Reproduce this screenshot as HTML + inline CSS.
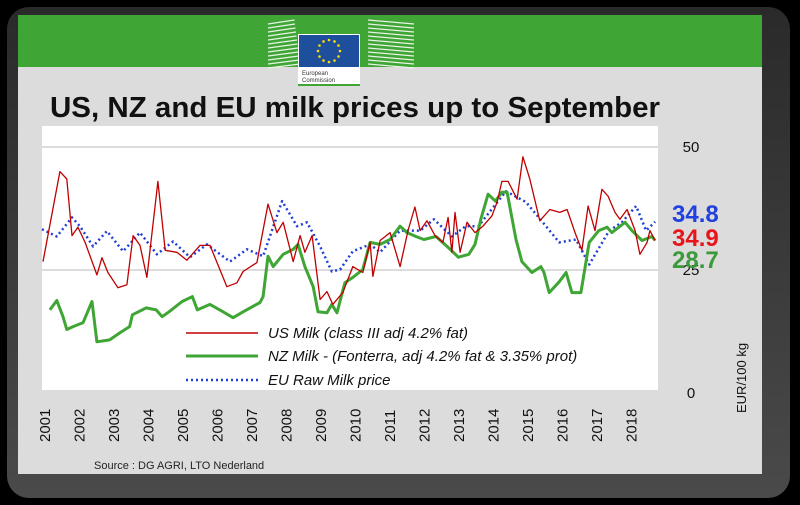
<!DOCTYPE html>
<html><head><meta charset="utf-8"><style>
html,body{margin:0;padding:0;background:#000;}
body{width:800px;height:505px;overflow:hidden;position:relative;font-family:"Liberation Sans",sans-serif;}
</style></head><body>
<svg width="800" height="505" viewBox="0 0 800 505" style="position:absolute;left:0;top:0">
<defs><linearGradient id="fr" x1="0" x2="0" y1="0" y2="1"><stop offset="0" stop-color="#2a2a2a"/><stop offset="1" stop-color="#4a4a4a"/></linearGradient></defs>
<rect x="7" y="7" width="783" height="491" rx="22" fill="url(#fr)"/>
<rect x="18" y="15" width="744" height="459" fill="#dcdcdc"/>
<rect x="18" y="15" width="744" height="52" fill="#3fa535"/>
<g>
<g stroke="#e8f4e4" stroke-width="1.3" id="stripesL"></g>
<g stroke="#e8f4e4" stroke-width="1.3" id="stripesR"></g>
<rect x="298" y="34" width="62" height="51" fill="#fff"/>
<rect x="299" y="35" width="60" height="32" fill="#1d4f9c"/>
<g id="stars" fill="#ffde00"></g>
<text x="302" y="75" font-size="6" fill="#333">European</text>
<text x="302" y="82" font-size="6" fill="#333">Commission</text>
<rect x="298" y="84" width="62" height="2" fill="#3fa535"/>
</g>
<text x="50" y="117" font-size="29" font-weight="bold" fill="#111" textLength="610" lengthAdjust="spacingAndGlyphs">US, NZ and EU milk prices up to September</text>
<rect x="42" y="126" width="616" height="264" fill="#fff"/>
<g id="grid"></g>
<g id="series"></g>
<g id="yticks" font-size="15" fill="#111"></g>
<g id="xticks" font-size="15" fill="#111"></g>
<g font-size="15" font-style="italic" fill="#111">
<line x1="186" x2="258" y1="333" y2="333" stroke="#c00000" stroke-width="1.5"/>
<text x="268" y="338">US Milk (class III adj 4.2% fat)</text>
<line x1="186" x2="258" y1="356" y2="356" stroke="#3fa535" stroke-width="3"/>
<text x="268" y="361">NZ Milk - (Fonterra, adj 4.2% fat &amp; 3.35% prot)</text>
<line x1="186" x2="258" y1="380" y2="380" stroke="#1f3fd6" stroke-width="2.5" stroke-dasharray="2,3"/>
<text x="268" y="385">EU Raw Milk price</text>
</g>
<text x="672" y="222" font-size="24" font-weight="bold" fill="#2040e0">34.8</text>
<text x="672" y="246" font-size="24" font-weight="bold" fill="#e8141c">34.9</text>
<text x="672" y="268" font-size="24" font-weight="bold" fill="#3a9a3a">28.7</text>
<text transform="translate(746,413) rotate(-90)" font-size="13" fill="#111">EUR/100 kg</text>
<text x="94" y="469" font-size="11" fill="#222">Source : DG AGRI, LTO Nederland</text>
</svg>
<script>
const usT=[2001.03,2001.52,2001.72,2001.87,2002.04,2002.25,2002.59,2002.74,2002.91,2003.2,2003.46,2003.64,2003.84,2004.04,2004.36,2004.57,2004.91,2005.2,2005.58,2005.87,2006.36,2006.65,2006.83,2007.23,2007.55,2007.81,2007.99,2008.28,2008.48,2008.62,2008.83,2009.06,2009.26,2009.43,2009.72,2010.01,2010.3,2010.51,2010.59,2010.8,2011.09,2011.38,2011.61,2011.81,2011.96,2012.16,2012.39,2012.62,2012.77,2012.88,2012.97,2013.12,2013.32,2013.55,2013.78,2014.04,2014.19,2014.33,2014.51,2014.77,2014.94,2015.14,2015.43,2015.72,2016.01,2016.22,2016.45,2016.65,2016.83,2017.03,2017.23,2017.41,2017.61,2017.75,2017.96,2018.19,2018.33,2018.54,2018.62,2018.77];
const usV=[26.7,45,43.5,32,33.7,30.6,24,27.5,24.5,21.4,22,32,30,23.5,43,29,28.6,27,30,30,21.6,22.4,24.7,26.5,38.4,32.6,34.7,26.7,32,28.6,32,19,20.6,18,20.4,25.7,24.5,30.6,23.7,31,32.6,25.7,33,37.8,33,35,32,30.6,35.7,28.6,36.7,28.6,34.7,32.6,33.9,36,38.8,43,43,39.4,48,43.5,35,37.3,36.7,37.3,32.6,29,38,33,41.4,40,36.7,35.3,37.3,33,28.2,30.6,33,31,34.9];
const nzT=[2001.23,2001.43,2001.61,2001.72,2001.9,2002.19,2002.45,2002.59,2002.96,2003.25,2003.54,2003.62,2004.02,2004.31,2004.48,2004.68,2005.06,2005.36,2005.5,2005.87,2006.25,2006.54,2006.83,2007.32,2007.41,2007.55,2007.7,2007.99,2008.28,2008.42,2008.62,2008.86,2009.0,2009.26,2009.4,2009.55,2009.78,2010.01,2010.3,2010.51,2010.8,2011.09,2011.38,2011.58,2011.84,2012.07,2012.42,2012.74,2013.07,2013.37,2013.55,2013.72,2013.93,2014.14,2014.33,2014.48,2014.74,2014.91,2015.2,2015.46,2015.55,2015.7,2015.99,2016.19,2016.36,2016.62,2016.86,2017.14,2017.38,2017.52,2017.9,2018.1,2018.39,2018.68,2018.77];
const nzV=[16.9,18.8,15.5,12.9,13.5,14.3,18.6,10.4,10.8,12.2,13.5,15.9,17.3,16.9,15.5,16.5,18.6,19.6,16.9,18,16.5,15.3,16.5,18.4,19.6,27.8,25.7,28.2,29.2,30.2,25.7,21.6,16.5,16.3,18,16.3,22.4,23.5,25.1,30.6,30.2,31.2,33.9,32.6,31.8,31.2,31.8,29.8,27.6,28.2,30.2,35.3,40.4,39,40.8,40.8,31.2,26.7,24.5,25.7,24.5,20.4,22.6,24.5,20.4,20.4,30.6,33,33.7,32.6,34.7,33,31,31.8,31,28.7];
const euT=[2001.0,2001.43,2001.87,2002.1,2002.48,2002.88,2003.35,2003.84,2004.33,2004.8,2005.29,2005.78,2006.45,2006.94,2007.41,2007.96,2008.39,2008.68,2009.06,2009.4,2009.64,2010.01,2010.51,2010.8,2011.38,2011.96,2012.36,2012.88,2013.28,2013.65,2014.03,2014.45,2015.03,2015.61,2015.99,2016.48,2016.86,2017.44,2017.81,2018.22,2018.51,2018.77];
const euV=[33.3,31.8,35.7,33.9,29.8,32.9,28.8,32.6,28.2,30.8,27.6,30.2,26.7,29.2,27.8,39,33.9,34.7,29.8,24.7,25.1,28.8,30.2,28.6,33,33,35.3,31.8,33.9,33.9,37.3,41,38.8,33.9,30.6,31.2,26.1,33,34.7,38,33,34.8];
const yTicks=[0,25,50];
const xYears=[2001,2002,2003,2004,2005,2006,2007,2008,2009,2010,2011,2012,2013,2014,2015,2016,2017,2018];
const NS='http://www.w3.org/2000/svg';
const x=t=>42+(t-2001)*34.5;
const y=v=>393-4.92*v;
function mk(tag,attrs,parent){const e=document.createElementNS(NS,tag);for(const k in attrs)e.setAttribute(k,attrs[k]);parent.appendChild(e);return e;}
const grid=document.getElementById('grid');
yTicks.filter(v=>v>0).forEach(v=>{const l=mk('line',{x1:42,x2:658,y1:y(v),y2:y(v),stroke:'#d0d0d0','stroke-width':1.5},grid);

});
const yt=document.getElementById('yticks');
yTicks.forEach(v=>{const t=mk('text',{x:691,y:y(v)+5,'text-anchor':'middle'},yt);t.textContent=v;

});
const xt=document.getElementById('xticks');
xYears.forEach(yr=>{const cx=x(yr)+3;const t=mk('text',{transform:`translate(${cx+5},442) rotate(-90)`},xt);t.textContent=yr;

});
const sg=document.getElementById('series');
function line(T,V,attrs,name){const d=T.map((t,i)=>(i?'L':'M')+x(t).toFixed(1)+','+y(V[i]).toFixed(1)).join('');
const p=mk('path',Object.assign({d:d,fill:'none','stroke-linejoin':'round'},attrs),sg);

}
line(euT,euV,{stroke:'#1f3fd6','stroke-width':2.5,'stroke-dasharray':'2,3'},'eu-series');
line(nzT,nzV,{stroke:'#3fa535','stroke-width':3},'nz-series');
line(usT,usV,{stroke:'#c00000','stroke-width':1.3},'us-series');
const sl=document.getElementById('stripesL'),sr=document.getElementById('stripesR');
for(let i=0;i<12;i++){const yy=20+i*4;mk('line',{x1:268,x2:300-(11-i)*0.5,y1:yy+4,y2:yy},sl);mk('line',{x1:368,x2:414,y1:yy,y2:yy+4},sr);}
const st=document.getElementById('stars');
for(let i=0;i<12;i++){const a=i*Math.PI/6;mk('circle',{cx:329+11*Math.cos(a),cy:51+11*Math.sin(a),r:1.3},st);}
</script>
</body></html>
